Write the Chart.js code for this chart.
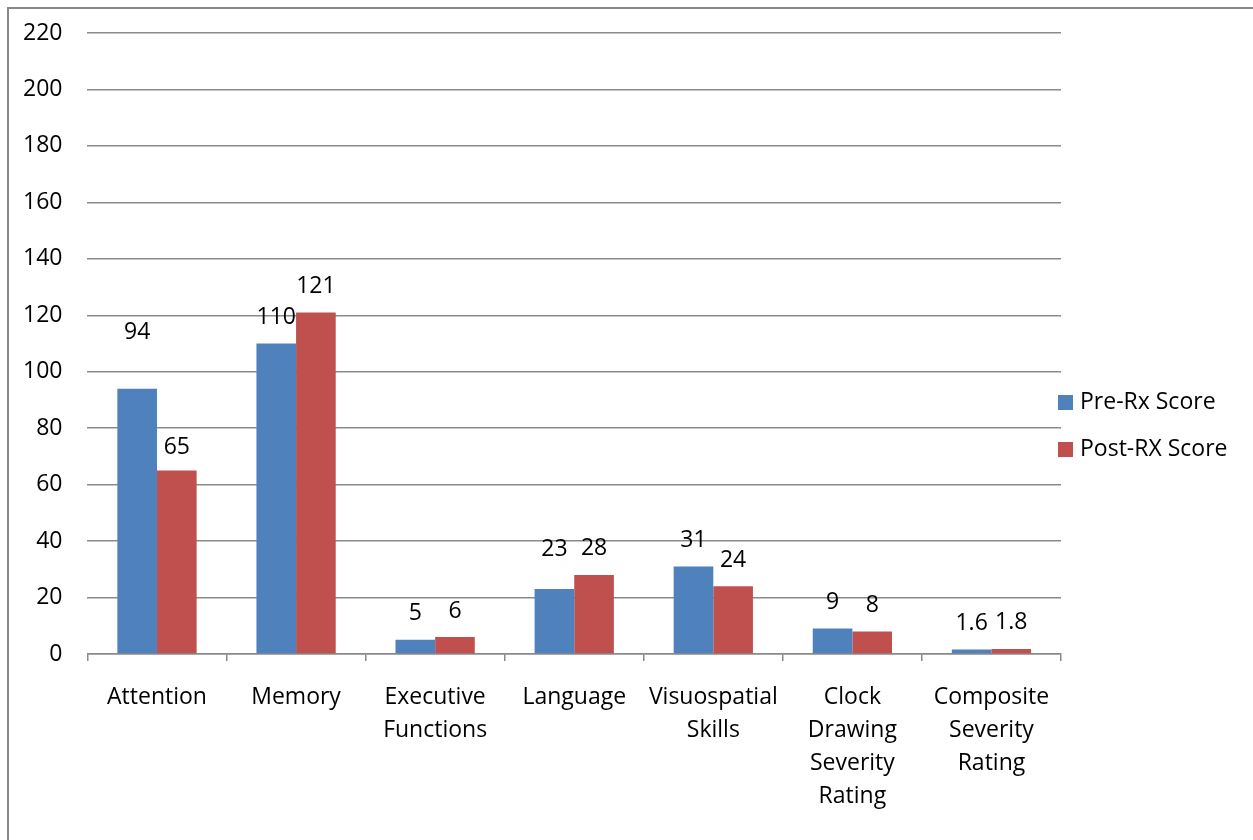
<!DOCTYPE html>
<html>
<head>
<meta charset="utf-8">
<script src="https://cdn.jsdelivr.net/npm/chart.js@4"></script>
<style>
  body { margin: 0; background: #fff; overflow: hidden; }
  #wrap { position: absolute; left: 7px; top: 7px; width: 1260px; height: 860px; border: 2px solid #898989; }
</style>
</head>
<body>
<div id="wrap"><canvas id="chart" width="1260" height="860"></canvas></div>
<script>
const categories = [
    'Attention', 'Memory', ['Executive', 'Functions'], 'Language',
    ['Visuospatial', 'Skills'], ['Clock', 'Drawing', 'Severity', 'Rating'],
    ['Composite', 'Severity', 'Rating']
];
const preRx = [94, 110, 5, 23, 31, 9, 1.6];
const postRx = [65, 121, 6, 28, 24, 8, 1.8];
const yTicks = [0, 20, 40, 60, 80, 100, 120, 140, 160, 180, 200, 220];

const FONT = { family: '"Open Sans", sans-serif', size: 23 };
const GRAY = '#8a8a8a';

// a few labels were moved by hand in the original, nudge them up a bit
const labelNudge = { '0-0': 30, '0-3': 14, '1-0': -3 };

const valueLabels = {
    id: 'valueLabels',
    afterDatasetsDraw(chart) {
        const c = chart.ctx;
        c.save();
        c.font = FONT.size + 'px ' + FONT.family;
        c.fillStyle = '#000';
        c.textAlign = 'center';
        c.textBaseline = 'middle';
        chart.data.datasets.forEach((ds, di) => {
            chart.getDatasetMeta(di).data.forEach((bar, i) => {
                const extra = labelNudge[di + '-' + i] || 0;
                c.fillText(String(ds.data[i]), bar.x, bar.y - 26 - extra);
            });
        });
        c.restore();
    }
};

// legend drawn by hand so it can sit right next to the plot
const sideLegend = {
    id: 'sideLegend',
    afterDraw(chart) {
        const c = chart.ctx;
        const a = chart.chartArea;
        c.save();
        c.font = FONT.size + 'px ' + FONT.family;
        c.textBaseline = 'middle';
        chart.data.datasets.forEach((ds, di) => {
            const y = 393 + di * 47;
            c.fillStyle = ds.backgroundColor;
            c.fillRect(a.right - 3, y - 7, 15, 15);
            c.fillStyle = '#000';
            c.fillText(ds.label, a.right + 19, y);
        });
        c.restore();
    }
};

new Chart(document.getElementById('chart'), {
    type: 'bar',
    data: {
        labels: categories,
        datasets: [
            { label: 'Pre-Rx Score', data: preRx, backgroundColor: '#4F81BD' },
            { label: 'Post-RX Score', data: postRx, backgroundColor: '#C0504D' }
        ]
    },
    options: {
        responsive: false,
        animation: false,
        events: [],
        layout: { padding: { left: 14, right: 208, top: 24, bottom: 36 } },
        datasets: { bar: { barPercentage: 1, categoryPercentage: 0.57 } },
        plugins: { legend: { display: false }, tooltip: { enabled: false } },
        scales: {
            x: {
                grid: { display: true, drawOnChartArea: false, drawTicks: true, tickLength: 7, color: GRAY, lineWidth: 1.5 },
                border: { display: true, color: GRAY, width: 1.5 },
                ticks: { color: '#000', font: { ...FONT, lineHeight: 1.435 }, padding: 20, maxRotation: 0, autoSkip: false }
            },
            y: {
                min: 0, max: 220,
                afterBuildTicks: s => { s.ticks = yTicks.map(v => ({ value: v })); },
                // invisible tick marks give the gap between labels and plot
                grid: { color: GRAY, lineWidth: 1.5, drawTicks: true, tickLength: 25, tickColor: 'rgba(0,0,0,0)' },
                border: { display: false },
                ticks: { color: '#000', font: FONT, padding: 0 }
            }
        }
    },
    plugins: [valueLabels, sideLegend]
});
</script>
</body>
</html>
